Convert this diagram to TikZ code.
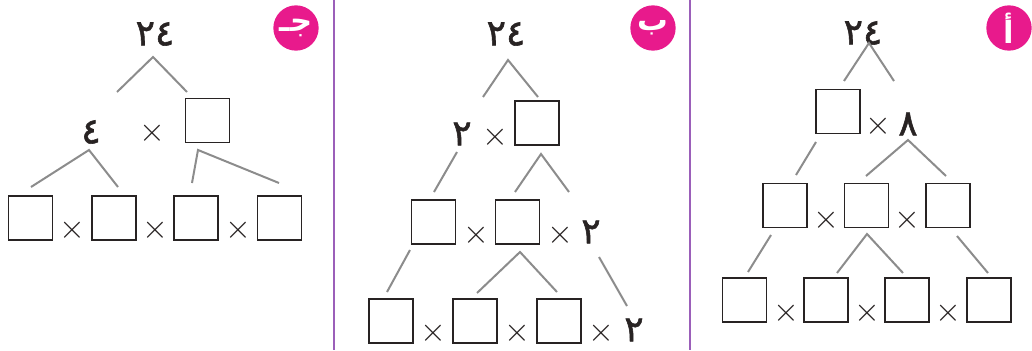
\documentclass[tikz,border=0pt]{standalone}
\usepackage{fontspec}
\TeXXeTstate=1
\newfontfamily\arabicfont[Script=Arabic]{DejaVu Sans}
\newfontfamily\numfont[Script=Arabic,FakeBold=1.6]{DejaVu Sans}
\definecolor{pinkc}{RGB}{232,26,140}
\definecolor{sepc}{RGB}{155,95,185}
\definecolor{linec}{RGB}{140,140,140}
\definecolor{boxc}{RGB}{40,35,35}
\begin{document}
\begin{tikzpicture}[x=0.75pt,y=-0.75pt,
  sq/.style={draw=boxc, line width=1.2pt, minimum size=33pt, inner sep=0pt},
  num/.style={font=\numfont\fontsize{27}{27}\selectfont, inner sep=0pt, text=boxc},
  tms/.style={font=\fontsize{28}{28}\selectfont, inner sep=0pt, text=boxc},
  conn/.style={draw=linec, line width=1.5pt},
  badge/.style={circle, fill=pinkc, minimum size=34pt, inner sep=0pt, text=white, font=\arabicfont\bfseries\fontsize{23}{23}\selectfont},
  sepline/.style={draw=sepc, line width=1.4pt}]
\useasboundingbox (0,0) rectangle (1032,350);
% separators
\coordinate (s1t) at (334,0); \coordinate (s1b) at (334,350);
\coordinate (s2t) at (690,0); \coordinate (s2b) at (690,350);
\draw[sepline] (s1t) -- (s1b);
\draw[sepline] (s2t) -- (s2b);

% ================= Panel jeem (left)
\node[badge] (bj) at (296,28) {\beginR جـ\endR};
\node[num] (j24) at (155,34) {٢٤};
\node[num] (j4) at (91,132) {٤};
\node[tms] (jx0) at (152,133) {$\times$};
\node[sq] (jb) at (207.5,120.5) {};
\node[sq] (jb1) at (30.5,218) {};
\node[sq] (jb2) at (114,218) {};
\node[sq] (jb3) at (196,218) {};
\node[sq] (jb4) at (279.5,218) {};
\node[tms] (jx1) at (72,230) {$\times$};
\node[tms] (jx2) at (155,230) {$\times$};
\node[tms] (jx3) at (238,230) {$\times$};
\coordinate (ja) at (153,57); \coordinate (jal) at (117,92); \coordinate (jar) at (187,92);
\draw[conn] (jal) -- (ja) -- (jar);
\coordinate (jc) at (89,150); \coordinate (jcl) at (31,187); \coordinate (jcr) at (118,187);
\draw[conn] (jcl) -- (jc) -- (jcr);
\coordinate (jd) at (198,150); \coordinate (jdl) at (192,183); \coordinate (jdr) at (279,183);
\draw[conn] (jdl) -- (jd) -- (jdr);

% ================= Panel baa (middle)
\node[badge] (bb) at (653,28) {\beginR ب\endR};
\node[num] (b24) at (506,34) {٢٤};
\node[num] (b2a) at (462,134) {٢};
\node[tms] (bx0) at (495,137) {$\times$};
\node[sq] (bb0) at (537,123) {};
\node[sq] (bm1) at (433.5,222) {};
\node[sq] (bm2) at (517.5,222) {};
\node[tms] (bx1) at (476,235) {$\times$};
\node[tms] (bx2) at (560,235) {$\times$};
\node[num] (b2b) at (591,232) {٢};
\node[sq] (bl1) at (391,321) {};
\node[sq] (bl2) at (475,321) {};
\node[sq] (bl3) at (559,321) {};
\node[tms] (bx3) at (433,333) {$\times$};
\node[tms] (bx4) at (517,333) {$\times$};
\node[tms] (bx5) at (601,333) {$\times$};
\node[num] (b2c) at (634,330) {٢};
\coordinate (ba) at (508,60); \coordinate (bal) at (483,97); \coordinate (bar) at (538,97);
\draw[conn] (bal) -- (ba) -- (bar);
\coordinate (bc1) at (457,152); \coordinate (bc2) at (434,192);
\draw[conn] (bc1) -- (bc2);
\coordinate (bd) at (541,154); \coordinate (bdl) at (515,192); \coordinate (bdr) at (569,192);
\draw[conn] (bdl) -- (bd) -- (bdr);
\coordinate (be1) at (410,250); \coordinate (be2) at (387,292);
\draw[conn] (be1) -- (be2);
\coordinate (bf) at (520,252); \coordinate (bfl) at (477,293); \coordinate (bfr) at (557,292);
\draw[conn] (bfl) -- (bf) -- (bfr);
\coordinate (bg1) at (599,257); \coordinate (bg2) at (627,306);
\draw[conn] (bg1) -- (bg2);

% ================= Panel alif (right)
\node[badge] (ba0) at (1009,28) {\beginR أ\endR};
\node[num] (a24) at (863,33) {٢٤};
\node[sq] (ab0) at (838,111.5) {};
\node[tms] (ax0) at (878,126) {$\times$};
\node[num] (a8) at (908,124) {٨};
\node[sq] (am1) at (785,205.5) {};
\node[sq] (am2) at (866.5,205.5) {};
\node[sq] (am3) at (948,205.5) {};
\node[tms] (ax1) at (826,220) {$\times$};
\node[tms] (ax2) at (907,220) {$\times$};
\node[sq] (al1) at (744.5,300) {};
\node[sq] (al2) at (826,300) {};
\node[sq] (al3) at (907,300) {};
\node[sq] (al4) at (989,300) {};
\node[tms] (ax3) at (786,313) {$\times$};
\node[tms] (ax4) at (867,313) {$\times$};
\node[tms] (ax5) at (948,313) {$\times$};
\coordinate (aa) at (869,43); \coordinate (aal) at (844,81); \coordinate (aar) at (894,81);
\draw[conn] (aal) -- (aa) -- (aar);
\coordinate (ac1) at (816,142); \coordinate (ac2) at (796,175);
\draw[conn] (ac1) -- (ac2);
\coordinate (ad) at (908,140); \coordinate (adl) at (866,176); \coordinate (adr) at (946,176);
\draw[conn] (adl) -- (ad) -- (adr);
\coordinate (ae1) at (771,235); \coordinate (ae2) at (748,272);
\draw[conn] (ae1) -- (ae2);
\coordinate (af) at (867,234); \coordinate (afl) at (837,273); \coordinate (afr) at (903,273);
\draw[conn] (afl) -- (af) -- (afr);
\coordinate (ag1) at (957,236); \coordinate (ag2) at (988,273);
\draw[conn] (ag1) -- (ag2);
\end{tikzpicture}
\end{document}
